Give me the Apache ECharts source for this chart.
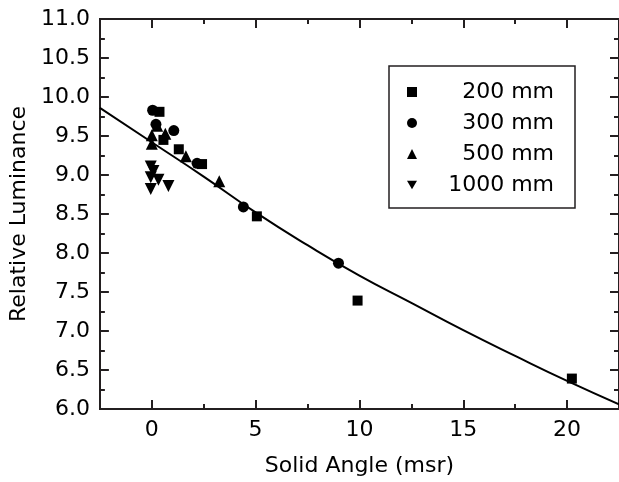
<!DOCTYPE html>
<html>
<head>
<meta charset="utf-8">
<script src="https://cdn.jsdelivr.net/npm/echarts@6/dist/echarts.min.js"></script>
<style>
  html, body { margin: 0; padding: 0; background: #fff; }
  #chart { width: 619px; height: 482px; }
</style>
</head>
<body>
<div id="chart"></div>
<script>
// measured points [solid angle (msr), relative luminance]
const mm200 = [[0.37, 9.81], [0.56, 9.45], [1.3, 9.33], [2.42, 9.14], [5.06, 8.47], [9.91, 7.39], [20.23, 6.39]];
const mm300 = [[0.04, 9.83], [0.2, 9.65], [1.06, 9.57], [2.18, 9.15], [4.41, 8.59], [8.99, 7.87]];
const mm500 = [[0.26, 9.63], [0.0, 9.51], [0.65, 9.53], [0.0, 9.40], [1.64, 9.24], [3.25, 8.92]];
const mm1000 = [[-0.05, 9.11], [0.08, 9.05], [-0.05, 8.97], [0.32, 8.94], [0.8, 8.86], [-0.05, 8.82]];

// fitted curve
const fitX = [-2.5, 0, 2.5, 5, 7.5, 10, 12.5, 15, 17.5, 20, 22.5];
const fitY = [9.86, 9.42, 8.98, 8.52, 8.10, 7.71, 7.36, 7.01, 6.68, 6.36, 6.06];

const xMajor = [0, 5, 10, 15, 20];
const xMinor = [2.5, 7.5, 12.5, 17.5];

const font = 'DejaVu Sans';
const ink = '#231f20';

const chart = echarts.init(document.getElementById('chart'));

function xAxis(pos, values, len, withLabels) {
  return {
    type: 'value', position: pos, min: -2.5, max: 22.5,
    axisLine: { show: true, onZero: false, lineStyle: { color: ink, width: 2 } },
    axisTick: { show: true, inside: true, length: len, customValues: values, lineStyle: { color: ink, width: 2 } },
    axisLabel: withLabels
      ? { show: true, customValues: values, color: '#000', fontFamily: font, fontSize: 22, margin: 10 }
      : { show: false },
    splitLine: { show: false }
  };
}

function yAxis(pos, withLabels) {
  return {
    type: 'value', position: pos, min: 6, max: 11, interval: 0.5,
    axisLine: { show: true, onZero: false, lineStyle: { color: ink, width: 2 } },
    axisTick: { show: true, inside: true, length: 9, lineStyle: { color: ink, width: 2 } },
    minorTick: { show: true, splitNumber: 2, length: 5, lineStyle: { color: ink, width: 2 } },
    axisLabel: withLabels
      ? { show: true, color: '#000', fontFamily: font, fontSize: 22, margin: 10, formatter: v => v.toFixed(1) }
      : { show: false },
    splitLine: { show: false }
  };
}

const bottom = xAxis('bottom', xMajor, 9, true);
bottom.name = 'Solid Angle (msr)';
bottom.nameLocation = 'middle';
bottom.nameGap = 46;
bottom.nameTextStyle = { color: '#000', fontFamily: font, fontSize: 22 };

const left = yAxis('left', true);
left.name = 'Relative Luminance';
left.nameLocation = 'middle';
left.nameGap = 66;
left.nameTextStyle = { color: '#000', fontFamily: font, fontSize: 22 };

const option = {
  animation: false,
  grid: { left: 97, top: 19, width: 524, height: 400, containLabel: false },
  xAxis: [
    bottom,
    xAxis('bottom', xMinor, 5, false),
    xAxis('top', xMajor, 9, false),
    xAxis('top', xMinor, 5, false)
  ],
  yAxis: [left, yAxis('right', false)],
  legend: {
    orient: 'vertical',
    left: 389, top: 66,
    padding: [15, 21, 12, 18],
    itemWidth: 10, itemHeight: 10,
    itemGap: 9,
    borderColor: ink, borderWidth: 1.5,
    formatter: '{t|{name}}',
    textStyle: {
      color: '#000', fontFamily: font, fontSize: 22,
      rich: { t: { width: 132, align: 'right', fontFamily: font, fontSize: 22, lineHeight: 22 } }
    },
    data: [
      { name: '200 mm', icon: 'rect' },
      { name: '300 mm', icon: 'circle' },
      { name: '500 mm', icon: 'triangle' },
      { name: '1000 mm', icon: 'path://M0,0 L2,0 L1,1.732 Z' }
    ]
  },
  series: [
    {
      name: 'fit', type: 'line', data: fitX.map((x, i) => [x, fitY[i]]),
      smooth: true, showSymbol: false, symbol: 'none',
      lineStyle: { color: '#000', width: 2 }, z: 1
    },
    { name: '200 mm', type: 'scatter', data: mm200, symbol: 'rect', symbolSize: 10, itemStyle: { color: '#000', opacity: 1 } },
    { name: '300 mm', type: 'scatter', data: mm300, symbol: 'circle', symbolSize: 11, itemStyle: { color: '#000', opacity: 1 } },
    { name: '500 mm', type: 'scatter', data: mm500, symbol: 'triangle', symbolSize: 12, itemStyle: { color: '#000', opacity: 1 } },
    { name: '1000 mm', type: 'scatter', data: mm1000, symbol: 'triangle', symbolRotate: 180, symbolSize: 12, itemStyle: { color: '#000', opacity: 1 } }
  ]
};

chart.setOption(option);
</script>
</body>
</html>
